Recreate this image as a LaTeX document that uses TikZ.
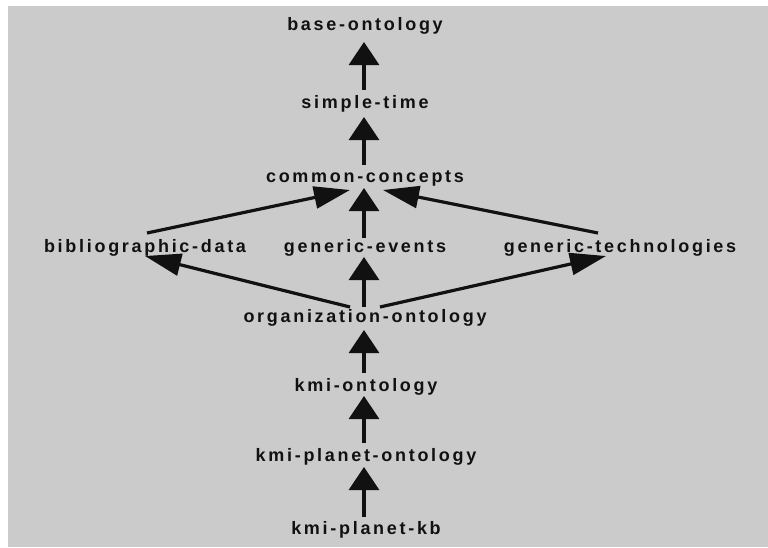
\documentclass[tikz,border=0pt]{standalone}
\usepackage{fontspec}
\newfontfamily\lblfont{Liberation Sans}[LetterSpace=15]
\usetikzlibrary{arrows.meta,calc}
\definecolor{bg}{HTML}{CBCBCB}
\definecolor{ink}{HTML}{111111}
\begin{document}
\begin{tikzpicture}[x=1pt,y=-1pt,
  lbl/.style={font=\lblfont\bfseries\fontsize{18pt}{21pt}\selectfont, text=ink, inner sep=0pt},
  up/.style={line width=3.2pt, draw=ink, -{Triangle[length=23pt,width=30pt]}},
  diag/.style={line width=3.2pt, draw=ink, -{Triangle[length=36pt,width=22pt]}}]
\useasboundingbox (0,0) rectangle (768,547);
\fill[bg] (8,6) rectangle (768,547);
% nodes
\node[lbl] (base) at (365,26)  {base-ontology};
\node[lbl] (st)   at (365,104) {simple-time};
\node[lbl] (cc)   at (365,178) {common-concepts};
\node[lbl] (bib)  at (145,248) {bibliographic-data};
\node[lbl] (ge)   at (365,248) {generic-events};
\node[lbl] (gt)   at (620,248) {generic-technologies};
\node[lbl] (org)  at (365,318) {organization-ontology};
\node[lbl] (ko)   at (366,387) {kmi-ontology};
\node[lbl] (kpo)  at (366,457) {kmi-planet-ontology};
\node[lbl] (kpkb) at (366,530) {kmi-planet-kb};
% connectors
\draw[up] ($(st)+(-1,-14)$) -- ($(base)+(-1,16)$);
\draw[up] ($(cc)+(-1,-13)$) -- ($(st)+(-1,13)$);
\draw[up] ($(ge)+(-1,-10)$) -- ($(cc)+(-1,10)$);
\draw[diag] ($(bib)+(2,-15)$) -- ($(cc)+(-15,12)$);
\draw[diag] ($(gt)+(-22,-15)$) -- ($(cc)+(18,12)$);
\draw[up] ($(org)+(-1,-11)$) -- ($(ge)+(-1,9)$);
\draw[diag] ($(org)+(-15,-11)$) -- ($(bib)+(0,8)$);
\draw[diag] ($(org)+(15,-11)$) -- ($(gt)+(-14,8)$);
\draw[up] ($(ko)+(-2,-14)$) -- ($(org)+(-1,12)$);
\draw[up] ($(kpo)+(-2,-14)$) -- ($(ko)+(-2,9)$);
\draw[up] ($(kpkb)+(-2,-13)$) -- ($(kpo)+(-2,10)$);
\end{tikzpicture}
\end{document}
